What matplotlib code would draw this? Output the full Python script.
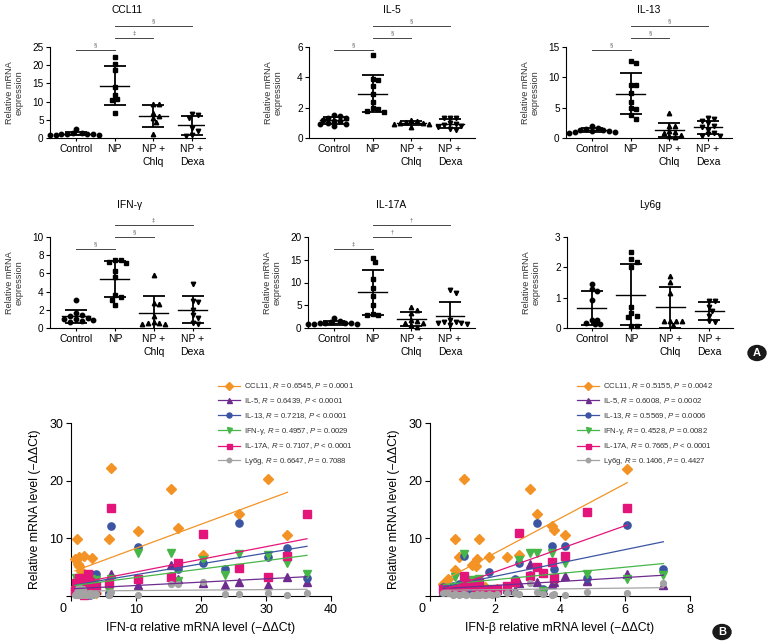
import numpy as np
import matplotlib
matplotlib.use("Agg")
import matplotlib.pyplot as plt
from matplotlib.lines import Line2D
from matplotlib.patches import Circle

plt.rcParams['font.family'] = ['Liberation Sans', 'DejaVu Sans']
plt.rcParams['mathtext.fontset'] = 'custom'
plt.rcParams['mathtext.it'] = 'Liberation Sans:italic'
plt.rcParams['mathtext.rm'] = 'Liberation Sans'

# ---- panel A data: relative mRNA expression per group ----
groups = ['Control', 'NP', 'NP +\nChlq', 'NP +\nDexa']

ccl11 = [[2.4, 1.5, 1.3, 1.2, 1.1, 1.0, 1.0, 0.9, 0.8, 0.8],
         [22.2, 20.4, 18.6, 14.1, 11.7, 10.6, 10.4, 7.0],
         [9.4, 9.3, 6.8, 6.0, 5.4, 4.3, 1.0],
         [6.6, 6.4, 5.5, 2.7, 1.8, 0.9, 0.6]]
il5 = [[1.5, 1.45, 1.35, 1.3, 1.2, 1.15, 1.1, 1.0, 0.95, 0.9, 0.8],
       [5.5, 3.9, 3.8, 3.4, 2.9, 2.4, 2.0, 1.9, 1.75, 1.7],
       [1.2, 1.1, 1.05, 1.0, 1.0, 0.95, 0.9, 0.75],
       [1.35, 1.3, 1.3, 1.0, 0.9, 0.85, 0.8, 0.7, 0.6, 0.5]]
il13 = [[2.0, 1.6, 1.5, 1.4, 1.3, 1.2, 1.1, 1.0, 1.0, 0.9],
        [12.7, 12.4, 8.8, 8.8, 7.5, 6.0, 4.9, 4.7, 3.8, 3.2],
        [4.1, 2.0, 1.9, 1.2, 1.0, 0.8, 0.5, 0.3, 0.2],
        [3.3, 3.2, 2.8, 2.4, 2.0, 1.8, 1.4, 0.9, 0.6, 0.4, 0.4]]
ifng = [[3.1, 1.6, 1.4, 1.3, 1.1, 1.0, 1.0, 0.9, 0.8, 0.7],
        [7.5, 7.45, 7.3, 7.1, 6.3, 5.6, 3.6, 3.45, 3.1, 2.55],
        [5.8, 2.7, 2.6, 1.3, 0.7, 0.6, 0.5, 0.4, 0.4],
        [4.8, 3.0, 2.9, 2.0, 1.4, 1.1, 0.5, 0.4]]
il17a = [[2.3, 1.5, 1.3, 1.2, 1.1, 1.0, 1.0, 0.9, 0.9, 0.8],
         [15.4, 14.5, 10.8, 8.9, 7.0, 5.1, 3.0, 2.9, 2.8],
         [4.6, 3.9, 3.4, 1.8, 1.6, 1.1, 1.0, 0.7, 0.3],
         [8.4, 7.7, 1.8, 1.4, 1.3, 1.1, 1.0, 0.8, 0.6]]
ly6g = [[1.46, 1.3, 1.22, 0.93, 0.28, 0.28, 0.16, 0.13, 0.13],
        [2.5, 2.27, 2.18, 2.0, 0.7, 0.5, 0.4, 0.35, 0.07, 0.06],
        [1.72, 1.52, 1.17, 0.24, 0.24, 0.23, 0.22, 0.1],
        [0.9, 0.9, 0.68, 0.55, 0.4, 0.24, 0.2]]

titles = ['CCL11', 'IL-5', 'IL-13', 'IFN-γ', 'IL-17A', 'Ly6g']
panel_data = [ccl11, il5, il13, ifng, il17a, ly6g]
ymax = [25, 6, 15, 10, 20, 3]
ystep = [5, 2, 5, 2, 5, 1]
sig = [['§', '‡', '§'], ['§', '§', '§'], ['§', '§', '§'],
       ['§', '§', '‡'], ['‡', '†', '†'], None]

# ---- panel B data: correlation with IFN-alpha / IFN-beta ----
series = ['CCL11', 'IL-5', 'IL-13', 'IFN-γ', 'IL-17A', 'Ly6g']
colors = ['#F39325', '#6E2C8F', '#3B55A3', '#46B648', '#E3157A', '#A3A3A3']
markers = ['D', '^', 'o', 'v', 's', 'o']
nan = np.nan

ifna_x = [0.6, 0.8, 0.9, 1.0, 1.1, 1.2, 1.3, 1.4, 1.5, 1.7, 1.8, 2.0, 2.2, 2.4, 2.6, 2.9, 3.1, 3.2, 3.5, 3.8,
          5.8, 6.2, 10.3, 15.4, 16.5, 20.3, 23.7, 25.8, 30.3, 33.3, 36.3]
ccl11_a = [6.4, 1.2, 9.8, 1.0, 5.5, 6.7, 5.2, 0.9, 4.3, 1.1, 1.3, 6.9, 0.8, 1.0, 1.2, 1.5, 0.7, 6.6, 1.0, 0.6,
           9.8, 22.2, 11.3, 18.6, 11.8, 7.1, nan, 14.3, 20.3, 10.5, nan]
il5_a = [1.0, 1.2, 1.3, 0.8, 0.9, 1.5, 1.1, 0.7, 1.2, 1.0, 0.9, 1.3, 1.1, 0.6, 1.0, 1.4, 0.8, 1.2, 0.9, 1.1,
         1.3, 3.8, 1.9, 5.3, 3.0, 2.3, 1.9, 2.4, 1.9, 3.3, 2.4]
il13_a = [1.2, 1.0, 2.1, 0.9, 1.4, 1.3, 0.5, 0.9, 1.1, 2.5, 1.2, 0.3, 1.0, 1.8, 1.4, 0.2, 3.8, 2.9, 1.0, 3.9,
          0.3, 12.2, 8.5, 3.4, 4.6, 5.8, 4.6, 12.6, 6.8, 8.4, 3.1]
ifng_a = [1.1, 3.1, 2.6, 1.0, 1.3, 0.7, 1.5, 0.8, 1.2, 2.7, 0.6, 1.0, 1.4, 0.5, 2.0, 1.6, 2.9, 1.1, 0.4, 2.8,
          0.8, 3.0, 7.5, 7.5, 2.6, 6.2, 3.6, 7.3, 7.1, 5.7, 3.8]
il17a_a = [0.9, 2.3, 1.6, 1.0, 0.9, 3.1, 1.2, 1.1, 2.5, 1.0, 0.8, 0.2, 3.2, 1.3, 3.9, 2.4, 1.4, 1.0, 0.7, 1.8,
           2.3, 15.3, 3.0, 3.3, 5.8, 10.7, nan, 4.9, 3.3, 6.9, 14.3]
ly6g_a = [0.2, 0.3, 0.1, 1.3, 0.2, 1.5, 0.3, 0.9, 0.1, 0.2, 1.2, 0.3, 0.1, 0.2, 0.3, 0.5, 0.2, 0.1, 0.4, 0.3,
          0.2, 0.7, 0.1, 2.1, 2.0, 2.5, 0.4, 0.3, 0.6, 0.1, 0.5]
fit_a = [(0.417, 4.1), (0.058, 1.24), (0.187, 1.83), (0.146, 1.75), (0.219, 1.98), (0.0083, 0.86)]
labels_a = [r'CCL11, $\it{R}$ = 0.6545, $\it{P}$ = 0.0001',
            r'IL-5, $\it{R}$ = 0.6439, $\it{P}$ < 0.0001',
            r'IL-13, $\it{R}$ = 0.7218, $\it{P}$ < 0.0001',
            r'IFN-γ, $\it{R}$ = 0.4957, $\it{P}$ = 0.0029',
            r'IL-17A, $\it{R}$ = 0.7107, $\it{P}$ < 0.0001',
            r'Ly6g, $\it{R}$ = 0.6647, $\it{P}$ = 0.7088']

ifnb_x = [0.41, 0.56, 0.7, 0.77, 0.78, 0.9, 1.0, 1.05, 1.1, 1.28, 1.42, 1.44, 1.52, 1.6, 1.7, 1.8, 1.9, 2.05,
          2.36, 2.6, 2.75, 3.08, 3.28, 3.49, 3.76, 3.80, 4.15, 4.82, 6.07, 7.18]
ccl11_b = [2.1, 2.9, 1.1, 9.8, 4.5, 6.7, 1.0, 20.3, 1.2, 5.4, 5.2, 6.5, 9.8, 1.0, 1.6, 6.7, 0.9, 1.2,
           6.8, nan, 7.1, 18.6, 14.3, nan, 12.1, 11.4, 10.6, nan, 22.1, nan]
il5_b = [0.8, 1.2, 1.3, 1.1, 0.9, 1.4, 1.2, 1.9, 1.0, 1.3, 1.0, 0.6, 1.5, 0.9, 0.8, 1.2, 1.0, 1.1,
         1.3, 1.0, 2.3, 5.5, 2.4, 1.0, 2.1, 2.4, 3.5, 2.6, 3.9, 1.9]
il13_b = [1.5, 1.0, 1.8, 1.3, 1.6, 2.1, 1.1, 6.9, 1.4, 1.0, 2.0, 1.1, 0.3, 1.2, 0.9, 4.1, 1.0, 1.0,
          0.8, 3.0, 5.8, 3.6, 12.7, 1.2, 8.6, 4.6, 8.6, 3.1, 12.3, 4.6]
ifng_b = [1.1, 0.7, 0.4, 3.3, 1.5, 1.2, 0.5, 7.2, 1.2, 2.7, 2.0, 2.7, 2.9, 0.6, 1.0, 1.3, 0.5, 0.9,
          1.1, 2.3, 6.3, 7.5, 7.4, 0.8, 7.5, 3.0, 5.7, 3.9, 3.0, 3.7]
il17a_b = [1.2, 1.0, 1.0, 0.9, 1.1, 1.0, 1.4, 3.4, 2.3, 1.9, 1.6, 1.0, 2.4, 1.1, 0.5, 1.0, 0.9, 1.3,
           1.7, 2.4, 10.9, 3.4, 5.0, 4.0, 5.9, 3.1, 6.9, 14.5, 15.3, nan]
ly6g_b = [0.6, 0.5, 0.2, 0.4, 0.3, 0.2, 0.3, 0.3, 0.2, 0.2, 0.1, 0.3, 0.2, 0.4, 0.2, 0.3, 0.2, 0.4,
          0.6, 0.5, 0.4, 2.3, 0.7, 0.3, 0.1, 0.3, 0.1, 0.7, 0.5, 2.3]
fit_b = [(3.0, 1.45), (0.343, 1.14), (1.157, 1.1), (0.54, 1.75), (2.0, 0.18), (0.066, 0.97)]
labels_b = [r'CCL11, $\it{R}$ = 0.5155, $\it{P}$ = 0.0042',
            r'IL-5, $\it{R}$ = 0.6008, $\it{P}$ = 0.0002',
            r'IL-13, $\it{R}$ = 0.5569, $\it{P}$ = 0.0006',
            r'IFN-γ, $\it{R}$ = 0.4528, $\it{P}$ = 0.0082',
            r'IL-17A, $\it{R}$ = 0.7665, $\it{P}$ < 0.0001',
            r'Ly6g, $\it{R}$ = 0.1406, $\it{P}$ = 0.4427']

W, H = 770, 641
fig = plt.figure(figsize=(W / 100, H / 100), dpi=100)


def add_ax(l, r, t, b):
    return fig.add_axes([l / W, 1 - b / H, (r - l) / W, (b - t) / H])


def swarm(vals, px_y, px_x, d=4.8):
    # simple beeswarm: push points sideways until they don't overlap
    placed = []
    offs = []
    for v in vals:
        y = v * px_y
        k = 0
        while True:
            step = (k + 1) // 2 * (1 if k % 2 else -1) if k else 0
            x = step * d * 0.6
            if all((x - px) ** 2 + (y - py) ** 2 >= d * d for px, py in placed):
                break
            k += 1
        placed.append((x, y))
        offs.append(x / px_x)
    return offs


boxes = [(50, 205, 47, 138, -0.67, 3.34), (309, 475, 47, 138, -0.65, 3.65),
         (566, 732, 47, 138, -0.67, 3.62), (50, 210, 237, 328, -0.67, 3.45),
         (308, 475, 237, 328, -0.67, 3.65), (567, 733, 237, 328, -0.63, 3.6)]
grp_markers = ['o', 's', '^', 'v']

for i, (l, r, t, b, x0, x1) in enumerate(boxes):
    ax = add_ax(l, r, t, b)
    data = panel_data[i]
    ax.set_xlim(x0, x1)
    ax.set_ylim(0, ymax[i])
    px_y = (b - t) / ymax[i]
    px_x = (r - l) / (x1 - x0)
    for g, vals in enumerate(data):
        v = np.array(vals)
        offs = swarm(v, px_y, px_x)
        ax.plot(g + np.array(offs), v, linestyle='none', marker=grp_markers[g],
                ms=3.2, color='black', clip_on=False, zorder=3)
        m, sd = v.mean(), v.std(ddof=1)
        ax.plot([g - 0.37, g + 0.37], [m, m], color='black', lw=1.0, zorder=4)
        ax.errorbar(g, m, yerr=sd, color='black', capsize=8, elinewidth=1.3,
                    capthick=1.3, zorder=4)
    for s in ['top', 'right']:
        ax.spines[s].set_visible(False)
    ax.spines['left'].set_linewidth(0.8)
    ax.spines['bottom'].set_linewidth(0.8)
    ax.set_yticks(np.arange(0, ymax[i] + 0.01, ystep[i]))
    ax.set_xticks(range(4))
    ax.set_xticklabels(groups, fontsize=7.5, linespacing=1.35)
    ax.tick_params(axis='y', labelsize=7.2, length=3, width=0.8, pad=1.5)
    ax.tick_params(axis='x', length=2.5, width=0.8, pad=2)
    ax.set_ylabel('Relative mRNA\nexpression', fontsize=6.6, linespacing=1.2, color='#333333')
    ax.yaxis.set_label_coords(-26 / (r - l), 0.5)
    ty = 1.407 if i < 3 else 1.352
    ax.text(0.5, ty, titles[i], transform=ax.transAxes, ha='center', va='center', fontsize=7.4)
    if sig[i]:
        ys = [0.967, 1.099, 1.231] if i < 3 else [0.868, 1.0, 1.132]
        pairs = [(0, 1), (1, 2), (1, 3)]
        tr = ax.get_xaxis_transform()
        for (a, c), yy, sym in zip(pairs, ys, sig[i]):
            ax.plot([a, c], [yy, yy], transform=tr, color='#444444', lw=0.7, clip_on=False)
            ax.text((a + c) / 2, yy + 0.055, sym, transform=tr, ha='center', va='center',
                    fontsize=4.2, color='#555555')

# ---- panel B scatter plots ----
def scatter_panel(l, xmax, xs, ys_list, fits, labels, xlabel, xtick):
    ax = add_ax(l, l + 260, 423, 596)
    ax.set_xlim(0, xmax)
    ax.set_ylim(0, 30)
    xs = np.array(xs)
    for k, yv in enumerate(ys_list):
        yv = np.array(yv)
        ok = ~np.isnan(yv)
        ms = 5.0 if markers[k] == 'D' else (4.2 if k == 5 else 5.2)
        ax.plot(xs[ok], yv[ok], linestyle='none', marker=markers[k], ms=ms,
                color=colors[k], clip_on=False, zorder=3)
    for k, yv in enumerate(ys_list):
        ok = ~np.isnan(np.array(yv))
        lo, hi = xs[ok].min(), xs[ok].max()
        a, c = fits[k]
        ax.plot([lo, hi], [a * lo + c, a * hi + c], color=colors[k], lw=0.9, zorder=4)
    for s in ['top', 'right']:
        ax.spines[s].set_visible(False)
    ax.spines['left'].set_linewidth(0.8)
    ax.spines['bottom'].set_linewidth(0.8)
    ax.set_xticks(xtick)
    ax.set_xticklabels([''] + [str(v) for v in xtick[1:]])
    ax.set_yticks([0, 10, 20, 30])
    ax.set_yticklabels(['', '10', '20', '30'])
    ax.tick_params(labelsize=9, length=3.5, width=0.8, pad=2)
    ax.annotate('0', xy=(0, 0), xycoords='data', xytext=(-6, -9), textcoords='offset points',
                ha='center', va='center', fontsize=9, annotation_clip=False)
    ax.set_ylabel('Relative mRNA level (−ΔΔCt)', fontsize=8.8)
    ax.yaxis.set_label_coords(-0.117, 0.5)
    ax.set_xlabel(xlabel, fontsize=8.8)
    ax.xaxis.set_label_coords(0.5, -0.15)
    handles = [Line2D([], [], color=colors[k], marker=markers[k], ms=3.6 if k != 5 else 3.2, lw=0.9)
               for k in range(6)]
    leg = ax.legend(handles, labels, loc='upper left', bbox_to_anchor=(0.565, 1.24),
                    frameon=False, fontsize=5.6, handlelength=2.9, handletextpad=0.4,
                    labelspacing=0.62, borderpad=0, borderaxespad=0)
    for t in leg.get_texts():
        t.set_color('#333333')
    return ax


scatter_panel(71, 40, ifna_x, [ccl11_a, il5_a, il13_a, ifng_a, il17a_a, ly6g_a], fit_a, labels_a,
              'IFN-α relative mRNA level (−ΔΔCt)', [0, 10, 20, 30, 40])
scatter_panel(430, 8, ifnb_x, [ccl11_b, il5_b, il13_b, ifng_b, il17a_b, ly6g_b], fit_b, labels_b,
              'IFN-β relative mRNA level (−ΔΔCt)', [0, 2, 4, 6, 8])

# panel badges
for lab, (cx, cy) in [('A', (757, 353)), ('B', (722, 632))]:
    fig.patches.append(Circle((cx / W, 1 - cy / H), 9 / W, transform=fig.transFigure,
                              color='#1a1a1a', zorder=10))
    fig.text(cx / W, 1 - cy / H, lab, color='white', fontsize=8, fontweight='bold',
             ha='center', va='center', zorder=11)

fig.savefig('out.png', dpi=100)
